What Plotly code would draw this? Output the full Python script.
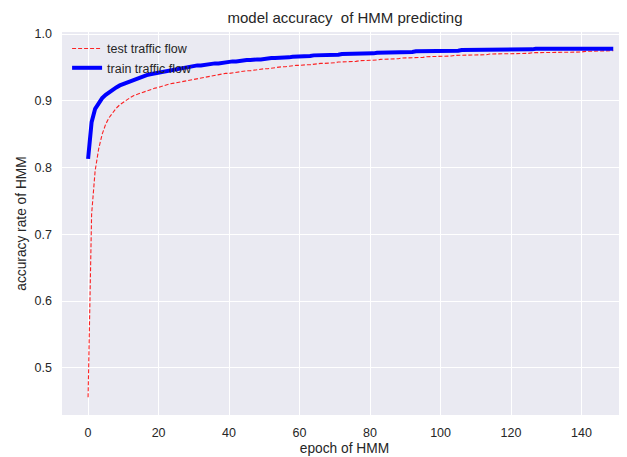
import plotly.graph_objects as go

epochs = list(range(150))

train_acc = [
    0.813, 0.868, 0.888, 0.897, 0.904, 0.909, 0.913, 0.917, 0.920, 0.923,
    0.925, 0.927, 0.930, 0.932, 0.934, 0.935, 0.937, 0.939, 0.940, 0.941,
    0.943, 0.944, 0.945, 0.946, 0.947, 0.948, 0.949, 0.950, 0.951, 0.951,
    0.952, 0.953, 0.953, 0.954, 0.955, 0.955, 0.956, 0.956, 0.957, 0.957,
    0.958, 0.959, 0.959, 0.960, 0.960, 0.961, 0.961, 0.962, 0.962, 0.962,
    0.963, 0.963, 0.964, 0.964, 0.964, 0.965, 0.965, 0.965, 0.966, 0.966,
    0.966, 0.967, 0.967, 0.967, 0.968, 0.968, 0.968, 0.968, 0.969, 0.969,
    0.969, 0.969, 0.970, 0.970, 0.970, 0.970, 0.970, 0.971, 0.971, 0.971,
    0.971, 0.971, 0.972, 0.972, 0.972, 0.972, 0.972, 0.973, 0.973, 0.973,
    0.973, 0.973, 0.973, 0.974, 0.974, 0.974, 0.974, 0.974, 0.974, 0.975,
    0.975, 0.975, 0.975, 0.975, 0.975, 0.975, 0.976, 0.976, 0.976, 0.976,
    0.976, 0.976, 0.976, 0.976, 0.976, 0.977, 0.977, 0.977, 0.977, 0.977,
    0.977, 0.977, 0.977, 0.977, 0.977, 0.977, 0.977, 0.978, 0.978, 0.978,
    0.978, 0.978, 0.978, 0.978, 0.978, 0.978, 0.978, 0.978, 0.978, 0.978,
    0.978, 0.978, 0.978, 0.978, 0.978, 0.978, 0.978, 0.978, 0.978, 0.978,
]

test_acc = [
    0.456, 0.730, 0.795, 0.828, 0.850, 0.865, 0.875, 0.883, 0.889, 0.894,
    0.898, 0.902, 0.905, 0.908, 0.910, 0.912, 0.914, 0.916, 0.917, 0.919,
    0.920, 0.922, 0.923, 0.925, 0.926, 0.927, 0.929, 0.930, 0.931, 0.932,
    0.933, 0.934, 0.935, 0.936, 0.937, 0.937, 0.938, 0.939, 0.940, 0.941,
    0.941, 0.942, 0.943, 0.943, 0.944, 0.945, 0.945, 0.946, 0.947, 0.947,
    0.948, 0.948, 0.949, 0.950, 0.950, 0.951, 0.951, 0.952, 0.952, 0.953,
    0.953, 0.954, 0.954, 0.954, 0.955, 0.955, 0.956, 0.956, 0.956, 0.957,
    0.957, 0.958, 0.958, 0.958, 0.959, 0.959, 0.959, 0.960, 0.960, 0.960,
    0.961, 0.961, 0.961, 0.962, 0.962, 0.962, 0.963, 0.963, 0.963, 0.964,
    0.964, 0.964, 0.964, 0.965, 0.965, 0.965, 0.966, 0.966, 0.966, 0.966,
    0.967, 0.967, 0.967, 0.967, 0.968, 0.968, 0.968, 0.968, 0.968, 0.969,
    0.969, 0.969, 0.969, 0.969, 0.970, 0.970, 0.970, 0.970, 0.970, 0.970,
    0.971, 0.971, 0.971, 0.971, 0.971, 0.971, 0.972, 0.972, 0.972, 0.972,
    0.972, 0.972, 0.972, 0.973, 0.973, 0.973, 0.973, 0.973, 0.973, 0.973,
    0.973, 0.974, 0.974, 0.974, 0.974, 0.974, 0.974, 0.974, 0.974, 0.975,
]

x_ticks = [0, 20, 40, 60, 80, 100, 120, 140]
y_ticks = [0.5, 0.6, 0.7, 0.8, 0.9, 1.0]
y_tick_labels = ["0.5", "0.6", "0.7", "0.8", "0.9", "1.0"]

FONT = "Liberation Sans, Arial, sans-serif"
TXT = "#262626"

fig = go.Figure()
fig.add_trace(go.Scatter(
    x=epochs, y=test_acc, mode="lines", name="test traffic flow",
    line=dict(color="#ff0000", width=1.1, dash="4px,2px"), opacity=0.85,
))
fig.add_trace(go.Scatter(
    x=epochs, y=train_acc, mode="lines", name="train traffic flow",
    line=dict(color="#0000ff", width=4),
))

# the page body adds an 8px offset, so the figure is sized to fit the window
W, H = 619, 449
fig.update_layout(
    width=W, height=H,
    margin=dict(l=54, r=0, t=24, b=42, autoexpand=False),
    paper_bgcolor="white", plot_bgcolor="#EAEAF2",
    font=dict(family=FONT, color=TXT, size=12.5),
    title=dict(text="model accuracy  of HMM predicting", x=(337) / W, xanchor="center",
               y=1 - 9.5 / H, yanchor="middle", yref="container",
               font=dict(size=15, color=TXT, family=FONT)),
    showlegend=True,
    legend=dict(x=0.009, y=0.995, xanchor="left", yanchor="top",
                bgcolor="rgba(0,0,0,0)", font=dict(size=12.5, color=TXT),
                itemwidth=30, tracegroupgap=0),
)
fig.update_xaxes(
    range=[-7.4, 152.9], tickmode="array", tickvals=x_ticks,
    showgrid=True, gridcolor="white", gridwidth=1, zeroline=False,
    showline=False, ticks="", ticklabelstandoff=8, automargin=False,
    title=dict(text="epoch of HMM", font=dict(size=13.75, color=TXT), standoff=4),
)
fig.update_yaxes(
    range=[0.4294, 1.003], tickmode="array", tickvals=y_ticks, ticktext=y_tick_labels,
    showgrid=True, gridcolor="white", gridwidth=1, zeroline=False,
    showline=False, ticks="", ticklabelstandoff=9, automargin=False,
    title=dict(text="accuracy rate of HMM", font=dict(size=13.75, color=TXT), standoff=4),
)

fig.write_html("out.html")
